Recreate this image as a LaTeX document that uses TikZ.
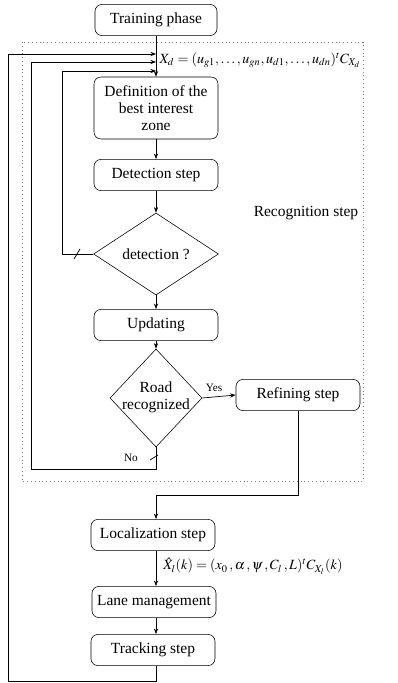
\documentclass[tikz,border=0pt]{standalone}
\usepackage{mathptmx}
\usepackage{fontspec}
\setmainfont{Liberation Serif}
\usepackage{tikz}
\usetikzlibrary{arrows.meta,positioning,shapes.geometric}

\begin{document}
\begin{tikzpicture}[x=0.025cm, y=-0.025cm,
    stepbox/.style={draw, rounded corners=5pt, minimum width=3.1cm, minimum height=0.78cm,
        align=center, font=\fontsize{11}{12}\selectfont, inner sep=1pt},
    decision/.style={draw, diamond, inner sep=0pt, font=\fontsize{11}{12}\selectfont},
    flow/.style={-{Stealth[length=4pt,width=3pt]}, line width=0.5pt},
    loop/.style={line width=0.5pt}]
    \useasboundingbox (0,0) rectangle (397,683);

    % Recognition zone
    \draw[gray, dotted, line width=0.7pt] (22,42) rectangle (363,481);
    \node[font=\fontsize{11}{12}\selectfont] (reclabel) at (306,213) {Recognition step};

    % Steps
    \node[stepbox, minimum width=3.05cm] (train) at (156,20) {Training phase};
    \node[stepbox, minimum height=1.55cm] (define) at (156,108) {Definition of the\\best interest\\zone};
    \node[stepbox] (detect) at (156,175) {Detection step};
    \node[decision, minimum width=3.12cm, minimum height=2.05cm] (detq) at (156,254) {detection ?};
    \node[stepbox] (update) at (156,325) {Updating};
    \node[decision, minimum width=2.3cm, minimum height=2.45cm] (roadq) at (156,398) {};
    \node[align=center, font=\fontsize{11}{12}\selectfont] (roadtxt) at (156,397) {Road\\recognized};
    \node[stepbox] (refine) at (298,395) {Refining step};
    \node[stepbox] (local) at (153,535) {Localization step};
    \node[stepbox] (lane) at (154,602) {Lane management};
    \node[stepbox] (track) at (153,650) {Tracking step};

    % State vectors
    \node[anchor=west, font=\fontsize{10}{11}\selectfont, inner sep=1pt] (xd) at (158,60)
        {$X_d=(u_{g1},\ldots,u_{gn},u_{d1},\ldots,u_{dn})^t C_{X_d}$};
    \node[anchor=west, font=\fontsize{10}{11}\selectfont, inner sep=0pt] (xl) at (163,566)
        {$\hat{X}_l(k)=(x_0\,,\alpha\,,\psi\,,C_l\,,L)^t C_{X_l}(k)$};

    % Merge points on the main line
    \coordinate (in1) at (156,54);
    \coordinate (in2) at (156,62);
    \coordinate (in3) at (156,71);

    % Main flow
    \draw[flow] (train) -- (define);
    \draw[flow] (define) -- (detect);
    \draw[flow] (detect) -- (detq);
    \draw[flow] (detq) -- (update);
    \draw[flow] (update) -- (roadq);
    \draw[flow] (roadq.east) -- node[above, font=\fontsize{8}{9}\selectfont, pos=0.35] {Yes} (refine.west);
    \draw[flow] (refine.south) |- (156,495) -- (156,495 |- local.north);
    \draw[flow] (local.south -| 156,0) -- (156,0 |- lane.north);
    \draw[flow] (lane.south -| 156,0) -- (156,0 |- track.north);

    % Loops back
    \draw[flow] (track.south -| 156,0) -- (156,681) -- (8,681) -- (8,54) -- (in1);
    \draw[flow] (roadq.south) -- (156,469) -- (31,469) -- (31,62) -- (in2);
    \draw[flow] (detq.west) -- (62,254) -- (62,71) -- (in3);

    % Ticks and labels on the loops
    \draw[loop] (74,259) -- (80,249);
    \draw[loop] (150,460) -- (158,455);
    \node[font=\fontsize{8}{9}\selectfont] (nolabel) at (131,458) {No};
\end{tikzpicture}
\end{document}
